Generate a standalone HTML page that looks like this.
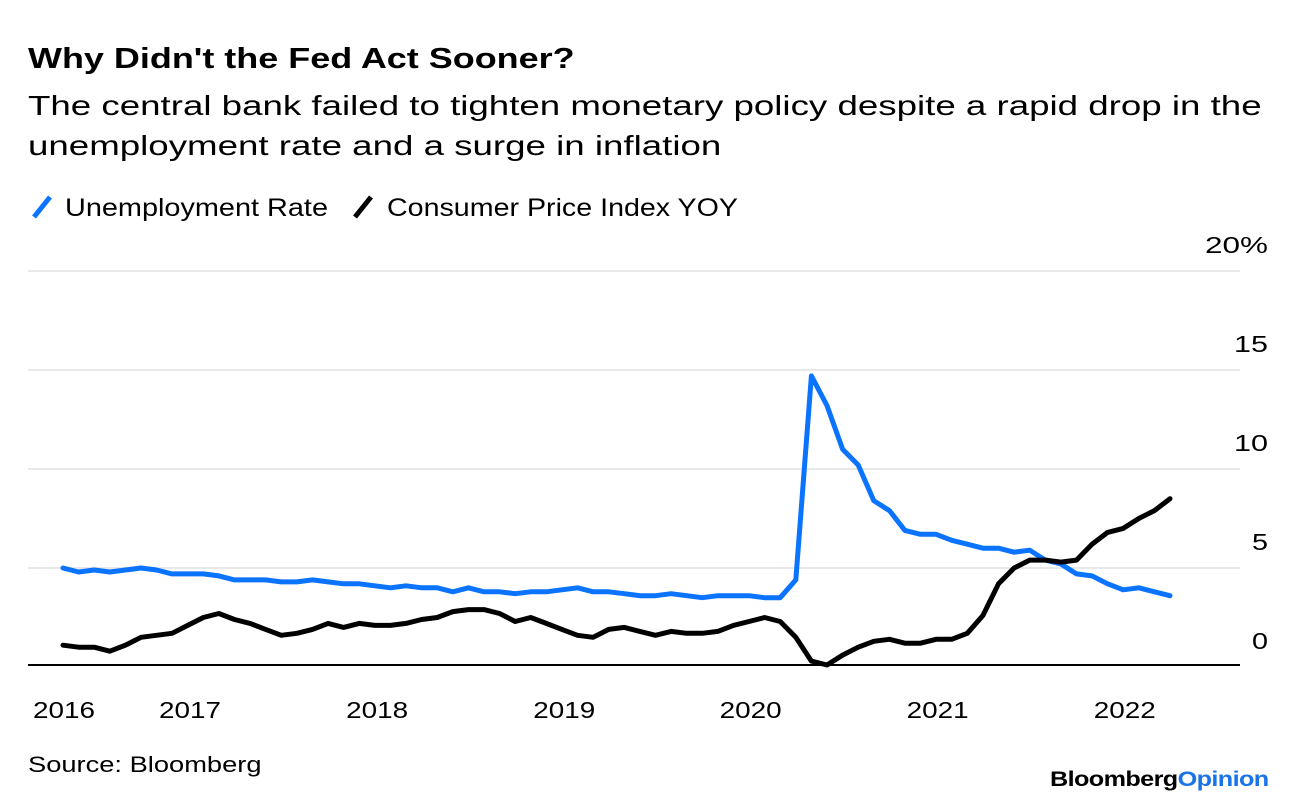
<!DOCTYPE html>
<html><head><meta charset="utf-8"><style>
body{margin:0;background:#fff;width:1296px;height:806px;overflow:hidden;font-family:"Liberation Sans",sans-serif;}
.sx{transform-origin:0 0;white-space:nowrap;}
#t{position:absolute;left:28px;top:43px;font-size:29px;font-weight:bold;color:#000;transform:scaleX(1.24);}
#s{position:absolute;left:28px;top:86px;font-size:28px;line-height:40px;color:#000;transform:scaleX(1.31);transform-origin:0 0;}
#s div{white-space:nowrap;}
#src{position:absolute;left:28px;top:752px;font-size:22px;color:#000;transform:scaleX(1.24);}
#logo{position:absolute;left:1050px;top:768px;font-size:21px;font-weight:bold;letter-spacing:-0.5px;transform:scaleX(1.2);}
</style></head><body>
<div id="t" class="sx">Why Didn't the Fed Act Sooner?</div>
<div id="s"><div>The central bank failed to tighten monetary policy despite a rapid drop in the</div><div>unemployment rate and a surge in inflation</div></div>
<svg id="c" width="1296" height="806" style="position:absolute;left:0;top:0"></svg>
<div id="src" class="sx">Source: Bloomberg</div>
<div id="logo" class="sx"><span style="color:#000">Bloomberg</span><span style="color:#1a73e8">Opinion</span></div>
<script>
const yTicks=[0,5,10,15,20];
const yTickLabels=["0","5","10","15","20%"];
const xYears=["2016","2017","2018","2019","2020","2021","2022"];
const xYearMonthIdx=[0,8.15,20.15,32.15,44.1,56.1,68.1];
const unemployment=[5.0,4.8,4.9,4.8,4.9,5.0,4.9,4.7,4.7,4.7,4.6,4.4,4.4,4.4,4.3,4.3,4.4,4.3,4.2,4.2,4.1,4.0,4.1,4.0,4.0,3.8,4.0,3.8,3.8,3.7,3.8,3.8,3.9,4.0,3.8,3.8,3.7,3.6,3.6,3.7,3.6,3.5,3.6,3.6,3.6,3.5,3.5,4.4,14.7,13.2,11.0,10.2,8.4,7.9,6.9,6.7,6.7,6.4,6.2,6.0,6.0,5.8,5.9,5.4,5.2,4.7,4.6,4.2,3.9,4.0,3.8,3.6];
const cpi=[1.1,1.0,1.0,0.8,1.1,1.5,1.6,1.7,2.1,2.5,2.7,2.4,2.2,1.9,1.6,1.7,1.9,2.2,2.0,2.2,2.1,2.1,2.2,2.4,2.5,2.8,2.9,2.9,2.7,2.3,2.5,2.2,1.9,1.6,1.5,1.9,2.0,1.8,1.6,1.8,1.7,1.7,1.8,2.1,2.3,2.5,2.3,1.5,0.3,0.1,0.6,1.0,1.3,1.4,1.2,1.2,1.4,1.4,1.7,2.6,4.2,5.0,5.4,5.4,5.3,5.4,6.2,6.8,7.0,7.5,7.9,8.5];
const NS="http://www.w3.org/2000/svg",svg=document.getElementById('c');
const x=i=>63+i*(1170-63)/71;
const y=v=>667-v*19.8;
function mk(t,a){const e=document.createElementNS(NS,t);for(const k in a)e.setAttribute(k,a[k]);svg.appendChild(e);return e;}
yTicks.forEach((v,i)=>{
 if(v>0){const g=mk('line',{x1:28,x2:1240,y1:y(v),y2:y(v),stroke:'#e8e8e8','stroke-width':2});
 
 }
 const L=yTickLabels[i];
 const w=L.length==3?63:(L.length==2?34:16);
 const t=mk('text',{x:1268-w,y:y(v)-18,'font-size':23,fill:'#000','font-family':'Liberation Sans',textLength:w,lengthAdjust:'spacingAndGlyphs'});
 t.textContent=L;
 
 
});
const ax=mk('line',{x1:28,x2:1240,y1:665,y2:665,stroke:'#000','stroke-width':2});


xYears.forEach((l,i)=>{
 const xx=x(xYearMonthIdx[i])+(i==0?1:0);
 const t=mk('text',{x:xx-31,y:718,'font-size':23,fill:'#000','font-family':'Liberation Sans',textLength:62,lengthAdjust:'spacingAndGlyphs'});
 t.textContent=l;
 
 
});
function line(d,col,name){
 const p=mk('path',{d:d.map((v,i)=>(i?'L':'M')+x(i).toFixed(1)+','+y(v).toFixed(1)).join(''),fill:'none',stroke:col,'stroke-width':5,'stroke-linejoin':'round','stroke-linecap':'round'});
 
 
}
line(unemployment,'#0a73ff','unemployment-line');
line(cpi,'#000','cpi-line');
function leg(x0,tx,tw,col,label,name){
 const g=mk('g',{});
 
 
 const l=document.createElementNS(NS,'line');
 [['x1',x0+2],['y1',217],['x2',x0+18],['y2',197],['stroke',col],['stroke-width',5]].forEach(a=>l.setAttribute(a[0],a[1]));g.appendChild(l);
 const t=document.createElementNS(NS,'text');
 [['x',tx],['y',216],['font-size',25],['font-family','Liberation Sans'],['textLength',tw],['lengthAdjust','spacingAndGlyphs']].forEach(a=>t.setAttribute(a[0],a[1]));t.textContent=label;g.appendChild(t);
}
leg(32,65,263,'#0a73ff','Unemployment Rate','legend-unemployment');
leg(353,387,351,'#000','Consumer Price Index YOY','legend-cpi');
</script>
</body></html>
